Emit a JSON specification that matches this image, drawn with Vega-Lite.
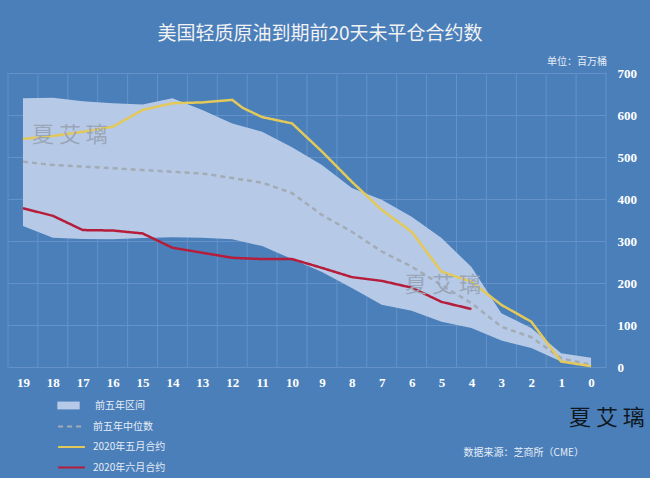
{"$schema":"https://vega.github.io/schema/vega-lite/v6.json","width":598,"height":294,"autosize":"none","padding":{"left":8,"top":73,"right":44,"bottom":111},"background":"#4a7fba","view":{"stroke":null},"title":{"text":"美国轻质原油到期前20天未平仓合约数","font":"Noto Sans CJK SC","fontSize":19,"fontWeight":"normal","color":"#f2f2f2","anchor":"middle","frame":"group","dx":13,"offset":13},"datasets":{"grid":[{"g":19.5},{"g":18.5},{"g":17.5},{"g":16.5},{"g":15.5},{"g":14.5},{"g":13.5},{"g":12.5},{"g":11.5},{"g":10.5},{"g":9.5},{"g":8.5},{"g":7.5},{"g":6.5},{"g":5.5},{"g":4.5},{"g":3.5},{"g":2.5},{"g":1.5},{"g":0.5},{"g":-0.5}],"band":[{"day":19,"lo":336,"hi":640},{"day":18,"lo":308,"hi":641},{"day":17,"lo":305,"hi":633},{"day":16,"lo":304,"hi":628},{"day":15,"lo":307,"hi":625},{"day":14,"lo":309,"hi":640},{"day":13,"lo":308,"hi":612},{"day":12,"lo":304,"hi":580},{"day":11,"lo":288,"hi":560},{"day":10,"lo":257,"hi":523},{"day":9,"lo":226,"hi":481},{"day":8,"lo":188,"hi":426},{"day":7,"lo":148,"hi":398},{"day":6,"lo":134,"hi":358},{"day":5,"lo":108,"hi":307},{"day":4,"lo":93,"hi":238},{"day":3,"lo":63,"hi":128},{"day":2,"lo":45,"hi":93},{"day":1,"lo":13,"hi":33},{"day":0,"lo":1,"hi":22}],"lines":[{"s":"前五年中位数","day":19,"v":489},{"s":"前五年中位数","day":18,"v":481},{"s":"前五年中位数","day":17,"v":477},{"s":"前五年中位数","day":16,"v":473},{"s":"前五年中位数","day":15,"v":469},{"s":"前五年中位数","day":14,"v":465},{"s":"前五年中位数","day":13,"v":461},{"s":"前五年中位数","day":12,"v":450},{"s":"前五年中位数","day":11,"v":439},{"s":"前五年中位数","day":10,"v":414},{"s":"前五年中位数","day":9,"v":362},{"s":"前五年中位数","day":8,"v":322},{"s":"前五年中位数","day":7,"v":275},{"s":"前五年中位数","day":6,"v":239},{"s":"前五年中位数","day":5,"v":195},{"s":"前五年中位数","day":4,"v":152},{"s":"前五年中位数","day":3,"v":96},{"s":"前五年中位数","day":2,"v":71},{"s":"前五年中位数","day":1,"v":21},{"s":"前五年中位数","day":0,"v":5},{"s":"2020年五月合约","day":19,"v":543},{"s":"2020年五月合约","day":18,"v":550},{"s":"2020年五月合约","day":17,"v":560},{"s":"2020年五月合约","day":16,"v":572},{"s":"2020年五月合约","day":15,"v":612},{"s":"2020年五月合约","day":14,"v":628},{"s":"2020年五月合约","day":13,"v":630},{"s":"2020年五月合约","day":12,"v":636},{"s":"2020年五月合约","day":11.65,"v":617},{"s":"2020年五月合约","day":11,"v":595},{"s":"2020年五月合约","day":10,"v":580},{"s":"2020年五月合约","day":9,"v":513},{"s":"2020年五月合约","day":8,"v":441},{"s":"2020年五月合约","day":7,"v":374},{"s":"2020年五月合约","day":6,"v":322},{"s":"2020年五月合约","day":5,"v":227},{"s":"2020年五月合约","day":4,"v":203},{"s":"2020年五月合约","day":3,"v":148},{"s":"2020年五月合约","day":2,"v":108},{"s":"2020年五月合约","day":1,"v":13},{"s":"2020年五月合约","day":0,"v":2},{"s":"2020年六月合约","day":19,"v":378},{"s":"2020年六月合约","day":18,"v":360},{"s":"2020年六月合约","day":17,"v":326},{"s":"2020年六月合约","day":16,"v":325},{"s":"2020年六月合约","day":15,"v":318},{"s":"2020年六月合约","day":14,"v":284},{"s":"2020年六月合约","day":13,"v":272},{"s":"2020年六月合约","day":12,"v":260},{"s":"2020年六月合约","day":11,"v":257},{"s":"2020年六月合约","day":10,"v":257},{"s":"2020年六月合约","day":9,"v":236},{"s":"2020年六月合约","day":8,"v":214},{"s":"2020年六月合约","day":7,"v":205},{"s":"2020年六月合约","day":6,"v":189},{"s":"2020年六月合约","day":5,"v":155},{"s":"2020年六月合约","day":4,"v":138}],"notes":[{"t":"单位：百万桶","day":0.47,"v":726},{"t":"数据来源：芝商所（CME）","day":2.25,"v":-205}],"marks":[{"t":"夏 艾 璃","day":17.43,"v":552,"k":"soft"},{"t":"夏 艾 璃","day":4.95,"v":195,"k":"soft"},{"t":"夏 艾 璃","day":-0.53,"v":-121,"k":"ink"}]},"encoding":{"x":{"type":"quantitative","scale":{"domain":[19.5,-0.5],"nice":false,"zero":false},"axis":{"values":[19,18,17,16,15,14,13,12,11,10,9,8,7,6,5,4,3,2,1,0],"title":null,"domain":false,"ticks":false,"grid":false,"labelFont":"Liberation Serif","labelFontWeight":"bold","labelFontSize":13,"labelColor":"#ffffff","labelPadding":9,"labelFlush":false,"labelOverlap":false}},"y":{"type":"quantitative","scale":{"domain":[0,700],"nice":false},"axis":{"orient":"right","values":[0,100,200,300,400,500,600,700],"title":null,"domain":false,"ticks":false,"grid":true,"gridColor":"#6492c8","gridWidth":1,"labelFont":"Liberation Serif","labelFontWeight":"bold","labelFontSize":13,"labelColor":"#ffffff","labelPadding":11}}},"layer":[{"data":{"name":"grid"},"mark":{"type":"rule","stroke":"#6492c8","strokeWidth":1},"encoding":{"x":{"field":"g"},"y":{"datum":0},"y2":{"datum":700}}},{"data":{"name":"band"},"mark":{"type":"area","opacity":1},"encoding":{"x":{"field":"day"},"y":{"field":"lo"},"y2":{"field":"hi"},"fill":{"datum":"前五年区间","type":"nominal","scale":{"domain":["前五年区间"],"range":["#b6cae8"]},"legend":{"orient":"none","legendX":49,"legendY":321,"title":null,"symbolType":"M-1,-0.35H1V0.35H-1Z","symbolSize":500,"symbolStrokeWidth":0,"labelFont":"Noto Sans CJK SC","labelFontSize":10,"labelColor":"#e6edf6","labelOffset":15}}}},{"data":{"name":"lines"},"mark":{"type":"line","strokeWidth":2.5},"encoding":{"x":{"field":"day"},"y":{"field":"v"},"stroke":{"field":"s","type":"nominal","sort":null,"scale":{"domain":["前五年中位数","2020年五月合约","2020年六月合约"],"range":["#a3abb5","#e3c85a","#b51d3a"]},"legend":{"orient":"none","legendX":49,"legendY":339,"title":null,"symbolType":"stroke","symbolSize":720,"symbolStrokeWidth":2,"rowPadding":0.5,"labelFont":"Noto Sans CJK SC","labelFontSize":10,"labelColor":"#e6edf6","labelOffset":7}},"strokeDash":{"field":"s","type":"nominal","sort":null,"scale":{"domain":["前五年中位数","2020年五月合约","2020年六月合约"],"range":[[5,4],[1,0],[1,0]]},"legend":null},"order":{"field":"day","sort":"descending"}}},{"data":{"name":"notes"},"mark":{"type":"text","font":"Noto Sans CJK SC","fontSize":10,"color":"#e6edf6"},"encoding":{"x":{"field":"day"},"y":{"field":"v"},"text":{"field":"t"}}},{"data":{"name":"marks"},"mark":{"type":"text","font":"Noto Sans CJK SC","fontSize":22},"encoding":{"x":{"field":"day"},"y":{"field":"v"},"text":{"field":"t"},"color":{"field":"k","type":"nominal","scale":{"domain":["soft","ink"],"range":["#9aa6b8","#10181f"]},"legend":null}}}]}
